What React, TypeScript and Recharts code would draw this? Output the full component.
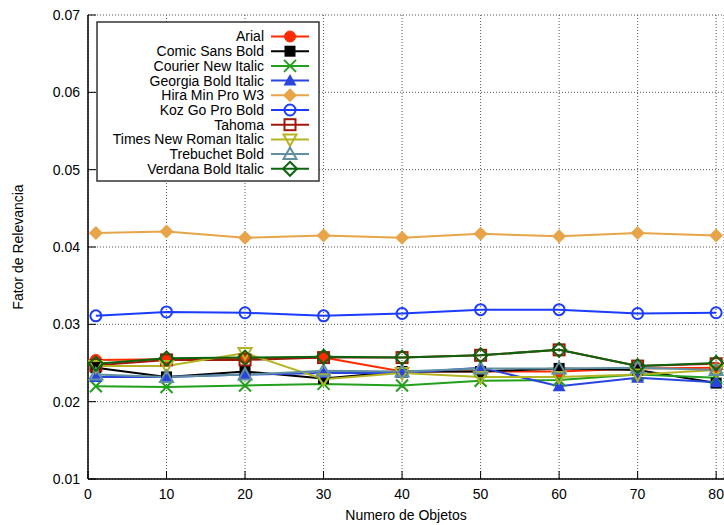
import React from 'react';
import { LineChart, Line, XAxis, YAxis, CartesianGrid } from 'recharts';

// x positions (numero de objetos)
const objetos = [1, 10, 20, 30, 40, 50, 60, 70, 80];

// fator de relevancia per font
const arial = [0.0254, 0.0255, 0.0256, 0.0257, 0.0239, 0.0239, 0.0239, 0.0243, 0.0244];
const comicSansBold = [0.0244, 0.0232, 0.0239, 0.0230, 0.0239, 0.0239, 0.0243, 0.0241, 0.0224];
const courierNewItalic = [0.0220, 0.0219, 0.0221, 0.0223, 0.0221, 0.0227, 0.0228, 0.0235, 0.0231];
const georgiaBoldItalic = [0.0232, 0.0232, 0.0235, 0.0237, 0.0237, 0.0244, 0.0220, 0.0231, 0.0225];
const hiraMinProW3 = [0.0418, 0.0420, 0.0412, 0.0415, 0.0412, 0.0417, 0.0414, 0.0418, 0.0415];
const kozGoProBold = [0.0311, 0.0316, 0.0315, 0.0311, 0.0314, 0.0319, 0.0319, 0.0314, 0.0315];
const tahoma = [0.0247, 0.0254, 0.0254, 0.0257, 0.0257, 0.0260, 0.0267, 0.0246, 0.0249];
const timesNewRomanItalic = [0.0246, 0.0246, 0.0263, 0.0229, 0.0237, 0.0232, 0.0232, 0.0235, 0.0241];
const trebuchetBold = [0.0235, 0.0232, 0.0235, 0.0240, 0.0239, 0.0243, 0.0243, 0.0244, 0.0241];
const verdanaBoldItalic = [0.0249, 0.0256, 0.0257, 0.0258, 0.0257, 0.0260, 0.0267, 0.0246, 0.0250];

const xTicks = [0, 10, 20, 30, 40, 50, 60, 70, 80];
const yTicks = [0.01, 0.02, 0.03, 0.04, 0.05, 0.06, 0.07];

const series = [
  { key: 'arial', name: 'Arial', color: '#ff2a00', shape: 'circleFill', values: arial },
  { key: 'comic', name: 'Comic Sans Bold', color: '#000000', shape: 'squareFill', values: comicSansBold },
  { key: 'courier', name: 'Courier New Italic', color: '#22a01c', shape: 'cross', values: courierNewItalic },
  { key: 'georgia', name: 'Georgia Bold Italic', color: '#2a44e0', shape: 'triFill', values: georgiaBoldItalic },
  { key: 'hira', name: 'Hira Min Pro W3', color: '#e8a448', shape: 'diamondFill', values: hiraMinProW3 },
  { key: 'koz', name: 'Koz Go Pro Bold', color: '#1a3cff', shape: 'circle', values: kozGoProBold },
  { key: 'tahoma', name: 'Tahoma', color: '#a0180c', shape: 'square', values: tahoma },
  { key: 'times', name: 'Times New Roman Italic', color: '#b4b422', shape: 'triDown', values: timesNewRomanItalic },
  { key: 'trebuchet', name: 'Trebuchet Bold', color: '#6090a0', shape: 'tri', values: trebuchetBold },
  { key: 'verdana', name: 'Verdana Bold Italic', color: '#0c640c', shape: 'diamond', values: verdanaBoldItalic },
];

const data = objetos.map((x, i) => {
  const row: any = { x };
  series.forEach((s) => (row[s.key] = s.values[i]));
  return row;
});

const FONT = '"Liberation Sans", Arial, Helvetica, sans-serif';

const Marker = ({ shape, cx, cy, color }: any) => {
  const r = 6;
  switch (shape) {
    case 'circleFill':
      return <circle cx={cx} cy={cy} r={5.5} fill={color} stroke={color} strokeWidth={1} />;
    case 'circle':
      return <circle cx={cx} cy={cy} r={5.5} fill="none" stroke={color} strokeWidth={2} />;
    case 'squareFill':
      return <rect x={cx - 5.5} y={cy - 5.5} width={11} height={11} fill={color} />;
    case 'square':
      return <rect x={cx - 5.5} y={cy - 5.5} width={11} height={11} fill="none" stroke={color} strokeWidth={2} />;
    case 'cross':
      return (
        <path
          d={`M${cx - r},${cy - r}L${cx + r},${cy + r}M${cx - r},${cy + r}L${cx + r},${cy - r}`}
          stroke={color}
          strokeWidth={2}
          fill="none"
        />
      );
    case 'triFill':
      return <polygon points={`${cx},${cy - 6.5} ${cx + 6.5},${cy + 5} ${cx - 6.5},${cy + 5}`} fill={color} />;
    case 'tri':
      return (
        <polygon
          points={`${cx},${cy - 6.5} ${cx + 6.5},${cy + 5} ${cx - 6.5},${cy + 5}`}
          fill="none"
          stroke={color}
          strokeWidth={2}
        />
      );
    case 'triDown':
      return (
        <polygon
          points={`${cx},${cy + 6.5} ${cx + 6.5},${cy - 5} ${cx - 6.5},${cy - 5}`}
          fill="none"
          stroke={color}
          strokeWidth={2}
        />
      );
    case 'diamondFill':
      return <polygon points={`${cx},${cy - 7} ${cx + 7},${cy} ${cx},${cy + 7} ${cx - 7},${cy}`} fill={color} />;
    case 'diamond':
      return (
        <polygon
          points={`${cx},${cy - 7} ${cx + 7},${cy} ${cx},${cy + 7} ${cx - 7},${cy}`}
          fill="none"
          stroke={color}
          strokeWidth={2}
        />
      );
    default:
      return null;
  }
};

// gnuplot style ticks: pointing inward
const LeftTick = ({ x, y, payload }: any) => (
  <g>
    <line x1={x + 8} x2={x + 16} y1={y} y2={y} stroke="#000" strokeWidth={1} />
    <text x={x} y={y} dy="0.355em" textAnchor="end" fontSize={14} fontFamily={FONT} fill="#000">
      {payload.value.toFixed(2)}
    </text>
  </g>
);

const RightTick = ({ x, y }: any) => (
  <line x1={x - 8} x2={x} y1={y} y2={y} stroke="#000" strokeWidth={1} />
);

const BottomTick = ({ x, y, payload }: any) => (
  <g>
    <line x1={x} x2={x} y1={y - 10} y2={y - 18} stroke="#000" strokeWidth={1} />
    <text x={x} y={y} dy="0.71em" textAnchor="middle" fontSize={14} fontFamily={FONT} fill="#000">
      {payload.value}
    </text>
  </g>
);

const TopTick = ({ x, y }: any) => (
  <line x1={x} x2={x} y1={y} y2={y + 8} stroke="#000" strokeWidth={1} />
);

const YLabel = ({ viewBox }: any) => {
  const cx = viewBox.x + 10;
  const cy = viewBox.y + viewBox.height / 2;
  return (
    <text
      x={cx}
      y={cy}
      transform={`rotate(-90, ${cx}, ${cy})`}
      textAnchor="middle"
      dominantBaseline="central"
      fontSize={14}
      fontFamily={FONT}
      fill="#000"
    >
      Fator de Relevancia
    </text>
  );
};

const KeyBox = () => {
  const rowH = 14.7;
  return (
    <svg width={224} height={162} style={{ position: 'absolute', left: 96, top: 21 }}>
      <rect x={1} y={1} width={222} height={159} fill="#fff" stroke="#333" strokeWidth={1.5} />
      {series.map((s, i) => {
        const y = 15.5 + i * rowH;
        return (
          <g key={s.key}>
            <text x={168} y={y} dy="0.355em" textAnchor="end" fontSize={14} fontFamily={FONT} fill="#000">
              {s.name}
            </text>
            <line x1={175} x2={213} y1={y} y2={y} stroke={s.color} strokeWidth={2} />
            <Marker shape={s.shape} cx={194} cy={y} color={s.color} />
          </g>
        );
      })}
    </svg>
  );
};

export default function App() {
  return (
    <div style={{ position: 'absolute', left: 0, top: 0, width: 724, height: 525, overflow: 'hidden', background: '#fff' }}>
      <LineChart width={724} height={525} data={data} margin={{ top: 15, right: 0, bottom: 0, left: 8 }}>
        <CartesianGrid stroke="#555" strokeDasharray="1 2" />
        <XAxis
          dataKey="x"
          type="number"
          domain={[0, 81]}
          ticks={xTicks}
          height={46}
          tickSize={0}
          tickMargin={10}
          tickLine={false}
          axisLine={{ stroke: '#000', strokeWidth: 1.5 }}
          tick={<BottomTick />}
          interval={0}
          label={{ value: 'Numero de Objetos', position: 'insideBottom', offset: 5, fontSize: 14, fontFamily: FONT, fill: '#000' }}
        />
        <XAxis
          xAxisId="top"
          orientation="top"
          dataKey="x"
          type="number"
          domain={[0, 81]}
          ticks={xTicks}
          height={0}
          tickSize={0}
          tickMargin={0}
          tickLine={false}
          axisLine={{ stroke: '#000', strokeWidth: 1.5 }}
          tick={<TopTick />}
          interval={0}
        />
        <YAxis
          type="number"
          domain={[0.01, 0.07]}
          ticks={yTicks}
          width={80}
          tickSize={0}
          tickMargin={8}
          tickLine={false}
          axisLine={{ stroke: '#000', strokeWidth: 1.5 }}
          tick={<LeftTick />}
          interval={0}
          label={YLabel}
        />
        <YAxis
          yAxisId="right"
          orientation="right"
          type="number"
          domain={[0.01, 0.07]}
          ticks={yTicks}
          width={0}
          tickSize={0}
          tickMargin={0}
          tickLine={false}
          axisLine={{ stroke: '#000', strokeWidth: 1.5 }}
          tick={<RightTick />}
          interval={0}
        />
        {series.map((s) => (
          <Line
            key={s.key}
            dataKey={s.key}
            name={s.name}
            stroke={s.color}
            strokeWidth={2}
            isAnimationActive={false}
            dot={(p: any) => <Marker key={`${s.key}-${p.index}`} shape={s.shape} cx={p.cx} cy={p.cy} color={s.color} />}
            activeDot={false}
          />
        ))}
      </LineChart>
      <KeyBox />
    </div>
  );
}
